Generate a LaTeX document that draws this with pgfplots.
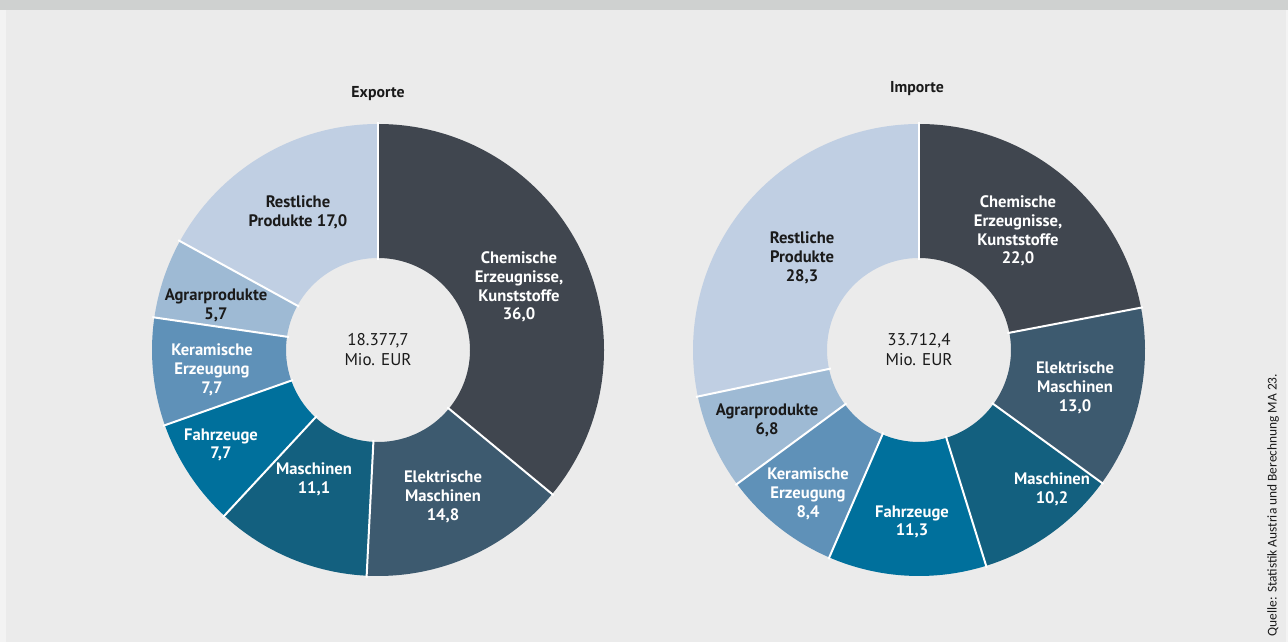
\documentclass[border=0pt]{standalone}
\usepackage{pgfplots}
\pgfplotsset{compat=1.18}
\usepackage{pgfplotstable}
\usepackage{fontspec}
\setmainfont{PT Sans}
\newfontfamily\qfont{Carlito}
\definecolor{bg}{HTML}{EBEBEB}
\definecolor{band}{HTML}{CFD1D0}
\definecolor{edge}{HTML}{F3F3F3}
\definecolor{c0}{HTML}{40464F}
\definecolor{c1}{HTML}{3D5A6F}
\definecolor{c2}{HTML}{13607F}
\definecolor{c3}{HTML}{00709C}
\definecolor{c4}{HTML}{5F91B8}
\definecolor{c5}{HTML}{9EBAD4}
\definecolor{c6}{HTML}{C0CFE3}
\definecolor{txt}{HTML}{1A1A1A}
\tikzset{lab/.style={font=\fontsize{8.3}{9.4}\selectfont\bfseries,align=center,inner sep=0pt}}

% Exporte: shares in percent, clockwise from 12 o'clock
\pgfplotstableread{
val
36.0
14.8
11.1
7.7
7.7
5.7
17.0
}\exptable
% Importe
\pgfplotstableread{
val
22.0
13.0
10.2
11.3
8.4
6.8
28.3
}\imptable

\newcommand\donut[3]{%
  \def\cumsum{0}%
  \pgfplotsforeachungrouped \i in {0,...,6}{%
    \pgfplotstablegetelem{\i}{val}\of{#1}%
    \pgfmathsetmacro\aS{90-3.6*\cumsum}%
    \pgfmathsetmacro\cumsum{\cumsum+\pgfplotsretval}%
    \pgfmathsetmacro\aE{90-3.6*\cumsum}%
    \edef\cmd{\noexpand\fill[c\i,shift={(axis cs:#2,#3)}] (\aS:113pt) arc[start angle=\aS,end angle=\aE,radius=113pt] -- (\aE:46pt) arc[start angle=\aE,end angle=\aS,radius=46pt] -- cycle;}%
    \cmd
  }%
  \def\cumsum{0}%
  \pgfplotsforeachungrouped \i in {0,...,6}{%
    \pgfplotstablegetelem{\i}{val}\of{#1}%
    \pgfmathsetmacro\aS{90-3.6*\cumsum}%
    \pgfmathsetmacro\cumsum{\cumsum+\pgfplotsretval}%
    \edef\cmd{\noexpand\draw[white,line width=1pt,shift={(axis cs:#2,#3)}] (\aS:45pt) -- (\aS:114pt);}%
    \cmd
  }%
}

\begin{document}
\begin{tikzpicture}
\begin{axis}[x=0.5pt,y=0.5pt,xmin=0,xmax=1288,ymin=0,ymax=642,
  hide axis,clip=false]
\fill[edge] (axis cs:0,0) rectangle (axis cs:1288,642);
\fill[bg] (axis cs:6,0) rectangle (axis cs:1286,632);
\fill[band] (axis cs:0,632) rectangle (axis cs:1288,642);

\donut{\exptable}{378}{292}
\donut{\imptable}{919}{292}

% titles
\node[lab,txt,font=\fontsize{7.9}{9.4}\selectfont\bfseries] at (axis cs:378,548) {Exporte};
\node[lab,txt,font=\fontsize{7.9}{9.4}\selectfont\bfseries] at (axis cs:917,553) {Importe};

% centre texts
\node[lab,txt,font=\fontsize{8.5}{10}\selectfont] at (axis cs:378,292) {18.377,7\\Mio. EUR};
\node[lab,txt,font=\fontsize{8.5}{10}\selectfont] at (axis cs:919,292) {33.712,4\\Mio. EUR};

% Exporte labels
\node[lab,white] at (axis cs:519,355) {Chemische\\Erzeugnisse,\\Kunststoffe\\36,0};
\node[lab,white] at (axis cs:443,145) {Elektrische\\Maschinen\\14,8};
\node[lab,white] at (axis cs:314,163) {Maschinen\\11,1};
\node[lab,white] at (axis cs:221,197) {Fahrzeuge\\7,7};
\node[lab,white] at (axis cs:212,272) {Keramische\\Erzeugung\\7,7};
\node[lab,txt] at (axis cs:216,337) {Agrarprodukte\\5,7};
\node[lab,txt] at (axis cs:298,430) {Restliche\\Produkte 17,0};

% Importe labels
\node[lab,white] at (axis cs:1018,411) {Chemische\\Erzeugnisse,\\Kunststoffe\\22,0};
\node[lab,white] at (axis cs:1075,254) {Elektrische\\Maschinen\\13,0};
\node[lab,white] at (axis cs:1052,153) {Maschinen\\10,2};
\node[lab,white] at (axis cs:912,120) {Fahrzeuge\\11,3};
\node[lab,white] at (axis cs:808,148) {Keramische\\Erzeugung\\8,4};
\node[lab,txt] at (axis cs:767,222) {Agrarprodukte\\6,8};
\node[lab,txt] at (axis cs:802,384) {Restliche\\Produkte\\28,3};

% source
\node[txt,inner sep=0pt,rotate=90,font=\qfont\fontsize{6.7}{7}\selectfont] at (axis cs:1273,137) {Quelle: Statistik Austria und Berechnung MA 23.};
\end{axis}
\end{tikzpicture}
\end{document}
